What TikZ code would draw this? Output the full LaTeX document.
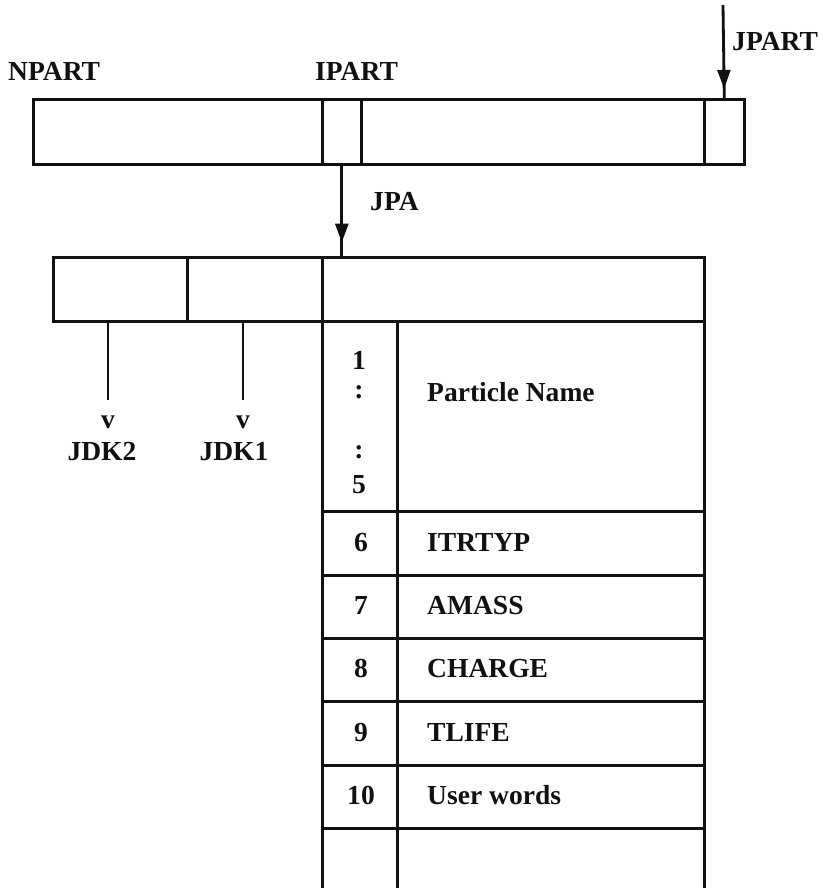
\documentclass[tikz,border=0pt]{standalone}
\usepackage{fontspec}
\setmainfont{Liberation Serif}
\usepackage{tikz}
\usetikzlibrary{arrows.meta,positioning,calc,decorations.markings}
\definecolor{ink}{HTML}{111111}
\tikzset{
  cell/.style 2 args={draw=ink, line width=2.2pt, inner sep=0pt, anchor=north west,
                      minimum width=#1*0.03cm, minimum height=#2*0.03cm},
  lbl/.style={font=\fontsize{23.5}{28}\selectfont\bfseries, color=ink, inner sep=0pt},
  wire/.style={draw=ink, line width=2.4pt},
  midarrow/.style={wire, postaction={decorate},
    decoration={markings, mark=at position #1 with {\arrow{Triangle[length=16pt,width=11pt]}}}},
}

\begin{document}
\begin{tikzpicture}[x=0.03cm, y=-0.03cm]
  \useasboundingbox (0,0) rectangle (823,888);
  % particle list bank
  \node[cell={289}{65}] (npartcell) at (32,98) {};
  \node[cell={39}{65}]  (ipartcell) at (321,98) {};
  \node[cell={343}{65}] (restcell)  at (360,98) {};
  \node[cell={40}{65}]  (jpartcell) at (703,98) {};
  \node[lbl, anchor=base west] (npart) at (8,80)   {NPART};
  \node[lbl, anchor=base west] (ipart) at (315,80) {IPART};
  \node[lbl, anchor=base west] (jpart) at (732,50) {JPART};
  \coordinate (jtop) at (723,5);
  \draw[midarrow=0.9] (jtop) -- (jpartcell.north);
  % one particle bank
  \node[cell={134}{64}] (jdktwocell) at (52,256) {};
  \node[cell={135}{64}] (jdkonecell) at (186,256) {};
  \node[cell={382}{64}] (headcell)   at (321,256) {};
  \draw[midarrow=0.85] (ipartcell.south) -- (ipartcell.south |- headcell.north);
  \node[lbl, anchor=base west] (jpa) at (370,210) {JPA};
  \foreach \v/\x/\t/\tx in {two/108/JDK2/102, one/243/JDK1/234}{
    \node[lbl, anchor=base] (v\v) at (\x,428) {v};
    \node[lbl, anchor=base] (jdk\v) at (\tx,460) {\t};
    \draw[wire, shorten >=0.45cm] (v\v.north |- jdk\v cell.south) -- (v\v.north);
  }
  % words of the bank
  \node[cell={75}{190}]  (namenum) at (321,320) {};
  \node[cell={307}{190}] (nametxt) at (396,320) {};
  \foreach \s/\y in {1/369, :/398, :/458, 5/493}{
    \node[lbl, anchor=base] at (359,\y) {\s};
  }
  \node[lbl, anchor=base west] (pname) at (427,401) {Particle Name};
  \foreach \n/\t/\y/\h in {6/ITRTYP/510/64, 7/AMASS/574/63, 8/CHARGE/637/63,
                           9/TLIFE/700/64, 10/User words/764/63, {}/{}/827/70}{
    \node[cell={75}{\h}]  (num\y) at (321,\y) {};
    \node[cell={307}{\h}] (txt\y) at (396,\y) {};
    \node[lbl, anchor=base] at (361,\y+\h/2+9) {\n};
    \node[lbl, anchor=base west] at (427,\y+\h/2+9) {\t};
  }
\end{tikzpicture}
\end{document}
